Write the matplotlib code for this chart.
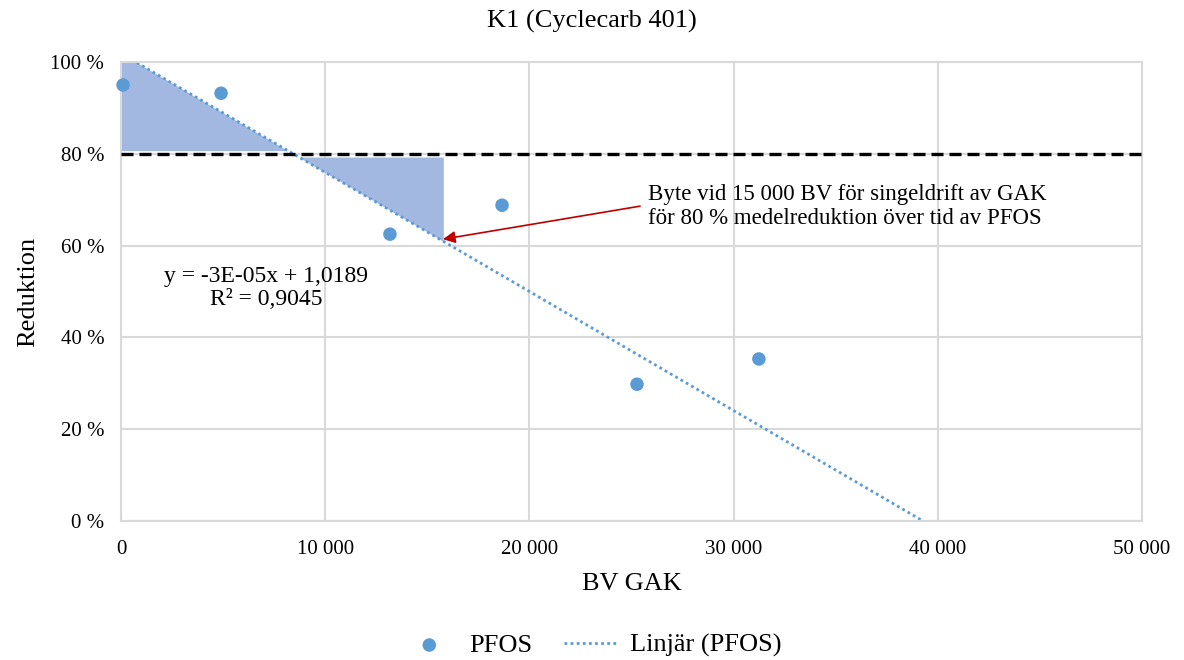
import numpy as np
import matplotlib
matplotlib.use("Agg")
import matplotlib.pyplot as plt
from matplotlib.ticker import FuncFormatter

# data
bv = [100, 4900, 13170, 18660, 25270, 31240]
reduktion = [0.95, 0.932, 0.625, 0.688, 0.298, 0.353]

# Excel trendline (as drawn)
trend_slope = -2.594e-5
trend_intercept = 1.0189

target = 0.80
byte_bv = 15785
x_ticks = [0, 10000, 20000, 30000, 40000, 50000]
y_ticks = [0, 0.2, 0.4, 0.6, 0.8, 1.0]

plt.rcParams['font.family'] = ['Liberation Serif', 'DejaVu Serif']

BLUE = '#5b9bd5'
FILL = '#a3b8e1'

fig = plt.figure(figsize=(11.84, 6.6), dpi=100)
ax = fig.add_axes([0.1022, 0.2106, 0.8623, 0.6954])

trend = lambda x: trend_intercept + trend_slope * np.asarray(x)
x_at = lambda y: (y - trend_intercept) / trend_slope

# shaded areas between trendline and target
x1 = np.array([0, x_at(target + 0.007)])
ax.fill_between(x1, target + 0.007, trend(x1), color=FILL, lw=0, zorder=1)
x2 = np.array([x_at(target - 0.007), byte_bv])
ax.fill_between(x2, trend(x2), target - 0.007, color=FILL, lw=0, zorder=1)

ax.axhline(target, color='black', lw=2.4, ls=(0, (3.6, 1.8)), zorder=3)

xs = np.array([0, 50000])
trend_line, = ax.plot(xs, trend(xs), color=BLUE, lw=2, ls=(0, (1, 1.2)),
                      zorder=2, label='Linjär (PFOS)')
pts = ax.scatter(bv, reduktion, s=95, color=BLUE, zorder=4, label='PFOS',
                 edgecolors='none', clip_on=False)

ax.set_xlim(0, 50000)
ax.set_ylim(0, 1.0)
ax.set_xticks(x_ticks)
ax.set_yticks(y_ticks)
ax.xaxis.set_major_formatter(FuncFormatter(lambda v, p: f"{int(v):,}".replace(',', ' ')))
ax.yaxis.set_major_formatter(FuncFormatter(lambda v, p: f"{int(round(v * 100))} %"))
ax.tick_params(length=0, labelsize=15, pad=12)
ax.tick_params(axis='x', pad=14)
ax.grid(True, color='#d9d9d9', lw=1.5, zorder=0)
ax.set_axisbelow(True)
for s in ax.spines.values():
    s.set_color('#d9d9d9')
    s.set_linewidth(1.5)

ax.set_xlabel('BV GAK', fontsize=19, labelpad=10)
ax.set_ylabel('Reduktion', fontsize=19, labelpad=8)
fig.text(0.5, 0.968, 'K1 (Cyclecarb 401)', fontsize=19, ha='center', va='center')

ax.text(7100, 0.508, 'y = -3E-05x + 1,0189\nR² = 0,9045', fontsize=17,
        ha='center', va='center', linespacing=1.1)

ax.annotate('Byte vid 15 000 BV för singeldrift av GAK\nför 80 % medelreduktion över tid av PFOS',
            xy=(15770, 0.614), xytext=(25810, 0.686), fontsize=16.5,
            ha='left', va='center', linespacing=1.2,
            arrowprops=dict(arrowstyle='-|>', color='#c00000', lw=1.2,
                            mutation_scale=18, shrinkA=0, shrinkB=0,
                            relpos=(-0.02, 0.5)))

fig.legend([pts, trend_line], ['PFOS', 'Linjär (PFOS)'], loc='lower center',
           ncol=2, frameon=False, fontsize=19, bbox_to_anchor=(0.5, -0.032),
           handlelength=2.0, columnspacing=1.2, handletextpad=0.5,
           scatterpoints=1)

fig.savefig('out.png', dpi=100)
